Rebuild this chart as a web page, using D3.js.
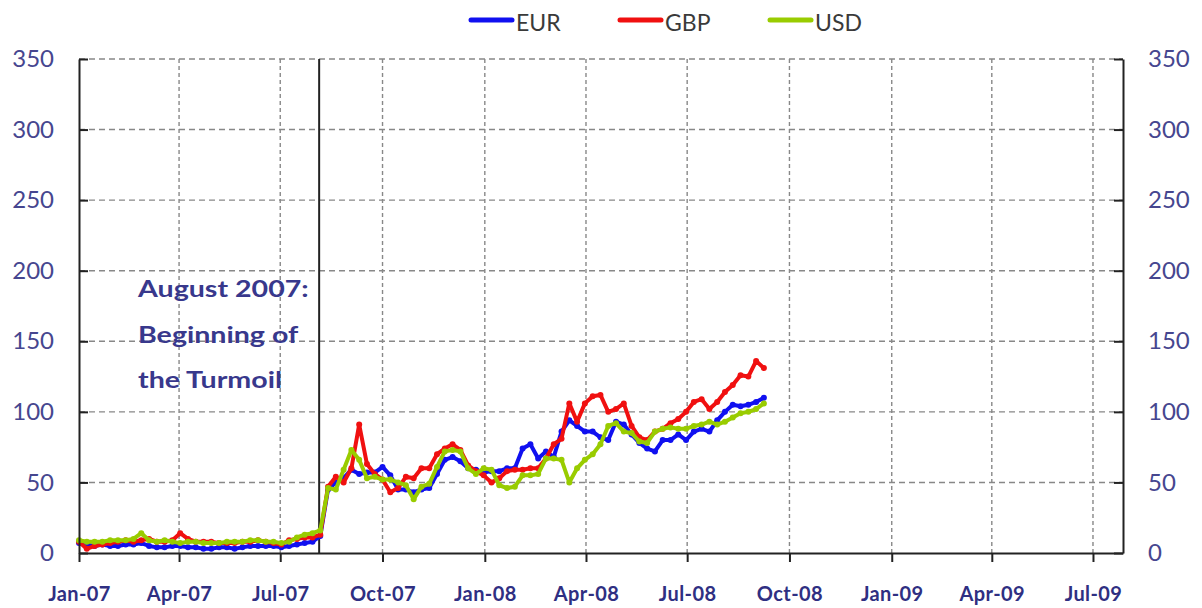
<!DOCTYPE html>
<html>
<head>
<meta charset="utf-8">
<script src="https://cdn.jsdelivr.net/npm/d3@7"></script>
<style>
    body { margin: 0; background: #fff; }
    svg { display: block; font-family: Lato, "Open Sans", sans-serif; }
</style>
</head>
<body>
<svg id="chart" width="1202" height="608"></svg>
<script>
// series, weekly readings starting on firstWeek
const currencies = ['EUR', 'GBP', 'USD'];
const seriesColors = ['#1010f0', '#f01010', '#99cc00'];
const firstWeek = '2007-01-01';

const eur = [7, 6, 5, 6, 5, 5, 6, 6, 7, 5, 4, 4, 5, 5, 4, 4, 3, 3, 4, 4, 3, 4, 5, 5, 5, 5, 4, 5, 6, 7, 8,
    12, 45, 50, 53, 59, 56, 57, 57, 61, 55, 45, 45, 43, 45, 46, 56, 66, 68,
    65, 60, 59, 57, 58, 58, 60, 60, 74, 77, 67, 72, 68, 86, 94, 90, 86, 86, 82,
    80, 93, 91, 84, 78, 74, 72, 80, 80, 84, 80, 86, 88, 86, 94, 100, 105, 104, 105, 107, 110];

const gbp = [8, 3, 5, 6, 7, 8, 9, 8, 9, 10, 8, 8, 9, 14, 10, 8, 8, 8, 7, 7, 7, 8, 8, 9, 8, 7, 6, 9, 10, 11, 11,
    13, 47, 54, 50, 60, 91, 63, 56, 52, 43, 46, 54, 53, 60, 60, 70, 74, 77,
    73, 62, 58, 55, 50, 53, 58, 59, 59, 60, 60, 67, 77, 81, 106, 93, 106, 111, 112,
    100, 102, 106, 90, 82, 80, 86, 88, 92, 95, 100, 107, 109, 102, 107, 114, 119, 126, 125, 136, 131];

const usd = [9, 8, 8, 8, 9, 9, 9, 10, 14, 9, 8, 9, 8, 7, 8, 8, 7, 7, 7, 8, 8, 8, 9, 9, 8, 8, 7, 8, 11, 13, 14,
    16, 46, 45, 59, 73, 66, 53, 54, 52, 52, 50, 48, 38, 47, 49, 61, 72, 73,
    72, 60, 56, 60, 59, 48, 46, 47, 55, 55, 56, 67, 67, 66, 50, 60, 66, 70, 77,
    90, 92, 86, 85, 79, 78, 86, 88, 89, 88, 88, 90, 91, 93, 91, 93, 96, 99, 100, 102, 106];

const yTicks = [0, 50, 100, 150, 200, 250, 300, 350];
const axisStart = '2007-01-01';
const axisEnd = '2009-07-28';
const turmoilDate = '2007-08-05';
const noteLines = ['August 2007:', 'Beginning of', 'the Turmoil'];

const parse = d3.timeParse('%Y-%m-%d');
const start = parse(firstWeek);
const dates = eur.map((v, i) => d3.timeDay.offset(start, 7 * i));
const allSeries = [eur, gbp, usd];

const plotLeft = 79, plotRight = 1123, plotTop = 59, plotBottom = 553;

const x = d3.scaleTime().domain([parse(axisStart), parse(axisEnd)]).range([plotLeft, plotRight]);
const y = d3.scaleLinear().domain([0, 350]).range([plotBottom, plotTop]);
const quarters = d3.timeMonth.every(3).range(parse(axisStart), parse(axisEnd));

const svg = d3.select('#chart');

// gridlines
svg.append('g')
    .selectAll('line')
    .data(yTicks.slice(1))
    .enter().append('line')
    .attr('x1', plotLeft).attr('x2', plotRight)
    .attr('y1', d => y(d)).attr('y2', d => y(d))
    .attr('stroke', '#888').attr('stroke-width', 1.4)
    .attr('stroke-dasharray', '6,4');

svg.append('g')
    .selectAll('line')
    .data(quarters.slice(1))
    .enter().append('line')
    .attr('x1', d => x(d)).attr('x2', d => x(d))
    .attr('y1', plotTop).attr('y2', plotBottom)
    .attr('stroke', '#888').attr('stroke-width', 1.4)
    .attr('stroke-dasharray', '4,3');

// turmoil marker
svg.append('line')
    .attr('x1', x(parse(turmoilDate))).attr('x2', x(parse(turmoilDate)))
    .attr('y1', plotTop).attr('y2', plotBottom)
    .attr('stroke', '#222').attr('stroke-width', 2);

svg.append('g')
    .selectAll('text')
    .data(noteLines)
    .enter().append('text')
    .attr('transform', (d, i) => `translate(138,${297 + i * 45.5}) scale(1.3,1)`)
    .attr('font-size', 22)
    .attr('font-weight', 'bold')
    .attr('fill', '#38388c')
    .text(d => d);

// series
const line = d3.line()
    .x((d, i) => x(dates[i]))
    .y(d => y(d));

allSeries.forEach((values, idx) => {
    svg.append('path')
        .datum(values)
        .attr('d', line)
        .attr('fill', 'none')
        .attr('stroke', seriesColors[idx])
        .attr('stroke-width', 4)
        .attr('stroke-linejoin', 'round');

    svg.append('g')
        .selectAll('circle')
        .data(values)
        .enter().append('circle')
        .attr('cx', (d, i) => x(dates[i]))
        .attr('cy', d => y(d))
        .attr('r', 3)
        .attr('fill', seriesColors[idx]);
});

// axes
const styleAxis = (g) => {
    g.selectAll('path').attr('stroke', '#222').attr('stroke-width', 2);
    g.selectAll('.tick line').attr('stroke', '#222').attr('stroke-width', 2);
};

svg.append('g')
    .attr('transform', `translate(0,${plotBottom})`)
    .call(d3.axisBottom(x).tickValues(quarters).tickFormat(d3.timeFormat('%b-%y')).tickSize(9).tickSizeOuter(0))
    .call(styleAxis)
    .call(g => g.selectAll('text')
        .attr('y', 48).attr('dy', 0)
        .attr('font-family', 'Lato, sans-serif')
        .attr('font-size', 20)
        .attr('font-weight', 'bold')
        .attr('letter-spacing', 0.4)
        .attr('fill', '#2f2f82'));

svg.append('g')
    .attr('transform', `translate(${plotLeft},0)`)
    .call(d3.axisLeft(y).tickValues(yTicks).tickSize(-9).tickSizeOuter(0).tickPadding(25))
    .call(styleAxis)
    .call(g => g.selectAll('text')
        .attr('font-family', 'Lato, sans-serif')
        .attr('font-size', 24)
        .attr('fill', '#46468f'));

svg.append('g')
    .attr('transform', `translate(${plotRight},0)`)
    .call(d3.axisRight(y).tickValues(yTicks).tickSize(-9).tickSizeOuter(0).tickPadding(25))
    .call(styleAxis)
    .call(g => g.selectAll('text')
        .attr('font-family', 'Lato, sans-serif')
        .attr('font-size', 24)
        .attr('fill', '#46468f'));

// legend
const legendX = [471, 620, 770];
const legend = svg.append('g')
    .selectAll('g')
    .data(currencies)
    .enter().append('g')
    .attr('transform', (d, i) => `translate(${legendX[i]},20)`);

legend.append('line')
    .attr('x1', 0).attr('x2', 41)
    .attr('stroke', (d, i) => seriesColors[i])
    .attr('stroke-width', 5)
    .attr('stroke-linecap', 'round');

legend.append('text')
    .attr('x', 45).attr('y', 11)
    .attr('font-size', 23)
    .attr('fill', '#3a3a3a')
    .text(d => d);
</script>
</body>
</html>
